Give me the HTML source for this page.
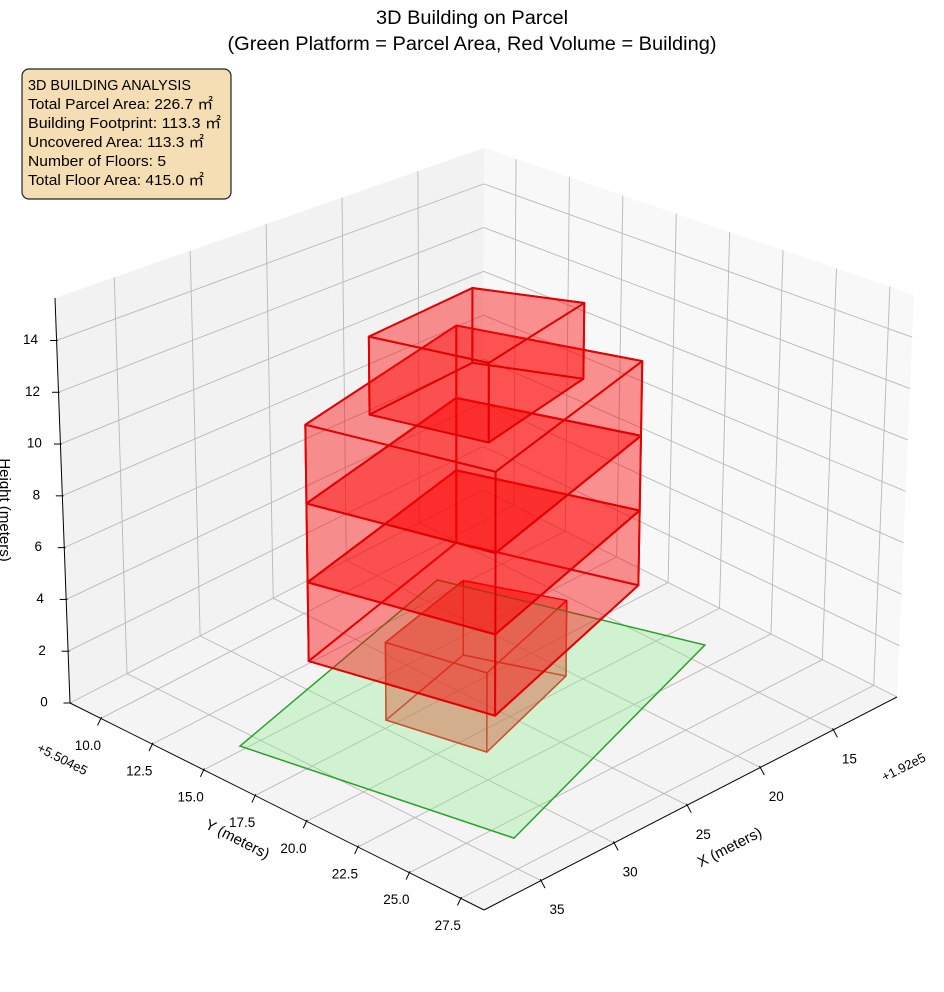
<!DOCTYPE html>
<html><head><meta charset="utf-8">
<style>
html,body{margin:0;padding:0;background:#fff;}
svg{display:block;font-family:"Liberation Sans","Noto Sans CJK JP",sans-serif;}
</style></head>
<body>
<svg id="chart" width="944" height="992" viewBox="0 0 944 992" xmlns="http://www.w3.org/2000/svg">
<g id="panes"></g>
<g id="grid"></g>
<g id="axes"></g>
<g id="marks"></g>
<text x="472" y="24" text-anchor="middle" font-size="19" textLength="192" lengthAdjust="spacingAndGlyphs">3D Building on Parcel</text>
<text x="472" y="50" text-anchor="middle" font-size="19" textLength="489" lengthAdjust="spacingAndGlyphs">(Green Platform = Parcel Area, Red Volume = Building)</text>
<text transform="translate(730,848) rotate(-27)" text-anchor="middle" dominant-baseline="middle" font-size="15">X (meters)</text>
<text transform="translate(237,840) rotate(27)" text-anchor="middle" dominant-baseline="middle" font-size="15">Y (meters)</text>
<text transform="translate(4,510) rotate(90)" text-anchor="middle" dominant-baseline="middle" font-size="15">Height (meters)</text>
<text transform="translate(904,768) rotate(-27)" text-anchor="middle" dominant-baseline="middle" font-size="13">+1.92e5</text>
<text transform="translate(62,760) rotate(27)" text-anchor="middle" dominant-baseline="middle" font-size="13">+5.504e5</text>
<g>
<rect x="22" y="69" width="209" height="130" rx="7" fill="#f5deb3" stroke="#222" stroke-width="1.2"/>
<text x="28" y="90" font-size="15" textLength="163" lengthAdjust="spacingAndGlyphs">3D BUILDING ANALYSIS</text>
<text x="28" y="109" font-size="15" textLength="185" lengthAdjust="spacingAndGlyphs">Total Parcel Area: 226.7 ㎡</text>
<text x="28" y="128" font-size="15" textLength="193" lengthAdjust="spacingAndGlyphs">Building Footprint: 113.3 ㎡</text>
<text x="28" y="147" font-size="15" textLength="176" lengthAdjust="spacingAndGlyphs">Uncovered Area: 113.3 ㎡</text>
<text x="28" y="166" font-size="15" textLength="138" lengthAdjust="spacingAndGlyphs">Number of Floors: 5</text>
<text x="28" y="185" font-size="15" textLength="176" lengthAdjust="spacingAndGlyphs">Total Floor Area: 415.0 ㎡</text>
</g>
</svg>
<script>
// ---- data ----
const xTicks = [15, 20, 25, 30, 35];
const yTicks = [10.0, 12.5, 15.0, 17.5, 20.0, 22.5, 25.0, 27.5];
const zTicks = [0, 2, 4, 6, 8, 10, 12, 14];
const parcelX = [36.08, 18.25, 13.62, 33.05];
const parcelY = [14.76, 11.68, 21.40, 25.93];
const floorBase = [0, 3, 6, 9, 12];
const floorHeight = [3, 3, 3, 3, 3];
const floorX = [
  [29.41, 28.17, 20.38, 22.43],
  [33.31, 30.92, 16.91, 19.97],
  [33.31, 30.92, 16.91, 19.97],
  [33.31, 30.92, 16.91, 19.97],
  [30.34, 28.73, 20.31, 22.60]
];
const floorY = [
  [17.12, 21.14, 19.45, 15.91],
  [16.19, 23.49, 20.44, 13.83],
  [16.19, 23.49, 20.44, 13.83],
  [16.19, 23.49, 20.44, 13.83],
  [17.11, 21.60, 20.08, 16.46]
];
// ---- axis limits ----
const xlim = [10.65, 38.9], ylim = [8.5, 28.63], zlim = [0, 15.64];
const NS = 'http://www.w3.org/2000/svg';
// screen corners of the axes box
const Bb=[483,490], Lb=[70,703], Rb=[897,697], Fb=[484,910];
const Bt=[484,148], Lt=[55,298], Rt=[914,295], Ft=[484,460];
function bil(B,L,R,F,u,v){
  return [B[0]*(1-u)*(1-v)+L[0]*u*(1-v)+R[0]*(1-u)*v+F[0]*u*v,
          B[1]*(1-u)*(1-v)+L[1]*u*(1-v)+R[1]*(1-u)*v+F[1]*u*v];
}
function proj(x,y,z){
  const u=(x-xlim[0])/(xlim[1]-xlim[0]);
  const v=(y-ylim[0])/(ylim[1]-ylim[0]);
  const w=(z-zlim[0])/(zlim[1]-zlim[0]);
  const p0=bil(Bb,Lb,Rb,Fb,u,v), p1=bil(Bt,Lt,Rt,Ft,u,v);
  return [p0[0]+(p1[0]-p0[0])*w, p0[1]+(p1[1]-p0[1])*w];
}
function mk(tag, parent, attrs){
  const e=document.createElementNS(NS,tag);
  for(const k in attrs) e.setAttribute(k, attrs[k]);
  parent.appendChild(e); return e;
}
function pts(list){return list.map(p=>p[0].toFixed(1)+','+p[1].toFixed(1)).join(' ');}
const panes=document.getElementById('panes');
const grid=document.getElementById('grid');
const axes=document.getElementById('axes');
const marks=document.getElementById('marks');
const X0=xlim[0],X1=xlim[1],Y0=ylim[0],Y1=ylim[1],Z0=zlim[0],Z1=zlim[1];
// panes
let e;
e=mk('polygon',panes,{points:pts([proj(X0,Y0,Z0),proj(X1,Y0,Z0),proj(X1,Y0,Z1),proj(X0,Y0,Z1)]),fill:'#f2f2f2'});


e=mk('polygon',panes,{points:pts([proj(X0,Y0,Z0),proj(X0,Y1,Z0),proj(X0,Y1,Z1),proj(X0,Y0,Z1)]),fill:'#f8f8f8'});


e=mk('polygon',panes,{points:pts([proj(X0,Y0,Z0),proj(X1,Y0,Z0),proj(X1,Y1,Z0),proj(X0,Y1,Z0)]),fill:'#f4f4f4'});


function gl(a,b,name){
  const l=mk('line',grid,{x1:a[0],y1:a[1],x2:b[0],y2:b[1],stroke:'#b8b8b8','stroke-width':0.9});
  
  
}
xTicks.forEach(t=>{gl(proj(t,Y0,Z0),proj(t,Y1,Z0),'x-grid-floor');gl(proj(t,Y0,Z0),proj(t,Y0,Z1),'x-grid-wall');});
yTicks.forEach(t=>{gl(proj(X0,t,Z0),proj(X1,t,Z0),'y-grid-floor');gl(proj(X0,t,Z0),proj(X0,t,Z1),'y-grid-wall');});
zTicks.forEach(t=>{gl(proj(X0,Y0,t),proj(X1,Y0,t),'z-grid-back');gl(proj(X0,Y0,t),proj(X0,Y1,t),'z-grid-side');});
// axis lines
function al(a,b,name){
  const l=mk('line',axes,{x1:a[0],y1:a[1],x2:b[0],y2:b[1],stroke:'#000','stroke-width':1});
  
  
}
al(proj(X0,Y1,Z0),proj(X1,Y1,Z0),'x-axis-line');
al(proj(X1,Y0,Z0),proj(X1,Y1,Z0),'y-axis-line');
al(proj(X1,Y0,Z0),proj(X1,Y0,Z1),'z-axis-line');
function tickLab(p,dx,dy,txt,name){
  al([p[0]-dx*0.05,p[1]-dy*0.05],[p[0]+dx*0.25,p[1]+dy*0.25],name+'-tick');
  const t=mk('text',axes,{x:p[0]+dx,y:p[1]+dy,'text-anchor':'middle','dominant-baseline':'middle','font-size':13.5});
  t.textContent=txt;
  
  
}
xTicks.forEach(t=>tickLab(proj(t,Y1,Z0),16,30,String(t),'x-tick'));
yTicks.forEach(t=>tickLab(proj(X1,t,Z0),-13,28,t.toFixed(1),'y-tick'));
zTicks.forEach(t=>tickLab(proj(X1,Y0,t),-26,0,String(t),'z-tick'));
// building boxes
function drawBox(i){
  const g=mk('g',marks,{});
  
  
  const z0=floorBase[i], z1=floorBase[i]+floorHeight[i];
  const bot=floorX[i].map((x,k)=>proj(x,floorY[i][k],z0));
  const top=floorX[i].map((x,k)=>proj(x,floorY[i][k],z1));
  const faces=[bot];
  for(let k=0;k<4;k++){const n=(k+1)%4;faces.push([bot[k],bot[n],top[n],top[k]]);}
  faces.push(top);
  faces.forEach(f=>{
    const p=mk('polygon',g,{points:pts(f),fill:'rgba(255,0,0,0.24)',stroke:'#e00000','stroke-width':i===0?1.4:1.9,'stroke-linejoin':'round'});
    
    
  });
}
drawBox(0);
const parcel=parcelX.map((x,k)=>proj(x,parcelY[k],0));
e=mk('polygon',marks,{points:pts(parcel),fill:'rgba(144,238,144,0.35)',stroke:'#2ca02c','stroke-width':1.5});


for(let i=1;i<floorBase.length;i++) drawBox(i);
</script>
</body></html>
